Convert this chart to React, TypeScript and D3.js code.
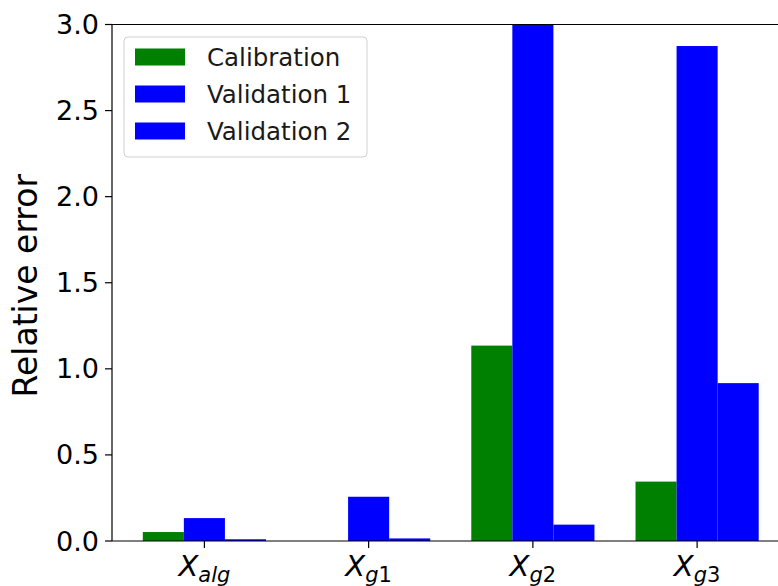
import React from "react";
import * as d3 from "d3";

// values
const categories = ["alg", "g1", "g2", "g3"];
const calibration = [0.052, 0, 1.135, 0.345];
const validation1 = [0.133, 0.257, 3.05, 2.875];
const validation2 = [0.01, 0.015, 0.095, 0.917];
const yTicks = [0, 0.5, 1.0, 1.5, 2.0, 2.5, 3.0];
const seriesNames = ["Calibration", "Validation 1", "Validation 2"];
const seriesColors = ["#008000", "#0000ff", "#0000ff"];

const W = 778;
const H = 586;
const FONT = "DejaVu Sans";

const App = () => {
  const x = d3.scaleLinear().domain([-0.5625, 3.5625]).range([112, 789.5]);
  const y = d3.scaleLinear().domain([0, 3]).range([541, 24.5]);
  const barW = 0.25;
  const series = [calibration, validation1, validation2];
  const offsets = [-0.25, 0, 0.25];

  return (
    <svg
      width={W}
      height={H}
      style={{ position: "absolute", left: 0, top: 0, background: "#fff" }}
      fontFamily={FONT}
    >
      <defs>
        <clipPath id="plot">
          <rect x={112} y={y(3)} width={W} height={y(0) - y(3)} />
        </clipPath>
      </defs>

      {/* bars */}
      <g clipPath="url(#plot)">
        {series.map((vals, si) =>
          vals.map((v, i) => (
            <rect
              key={`${si}-${i}`}
              x={x(i + offsets[si] - barW / 2)}
              y={y(v)}
              width={x(barW) - x(0)}
              height={y(0) - y(v)}
              fill={seriesColors[si]}
            />
          ))
        )}
      </g>

      {/* spines */}
      <line x1={112} x2={112} y1={y(3)} y2={y(0)} stroke="#000" strokeWidth={1.2} />
      <line x1={112} x2={W} y1={y(0)} y2={y(0)} stroke="#000" strokeWidth={1.2} />
      <line x1={112} x2={W} y1={y(3)} y2={y(3)} stroke="#000" strokeWidth={1.2} />

      {/* y axis */}
      {yTicks.map((t) => (
        <g key={t}>
          <line x1={105} x2={112} y1={y(t)} y2={y(t)} stroke="#000" strokeWidth={1.2} />
          <text
            x={99}
            y={y(t)}
            textAnchor="end"
            dominantBaseline="central"
            fontSize={27}
            fill="#000"
          >
            {t.toFixed(1)}
          </text>
        </g>
      ))}
      <text
        transform={`translate(37,${(y(0) + y(3)) / 2 + 3}) rotate(-90)`}
        textAnchor="middle"
        fontSize={33}
        fill="#000"
      >
        Relative error
      </text>

      {/* x axis */}
      {categories.map((c, i) => {
        const letters = c.replace(/[0-9]/g, "");
        const digits = c.replace(/[^0-9]/g, "");
        return (
          <g key={c}>
            <line x1={x(i)} x2={x(i)} y1={y(0)} y2={y(0) + 7} stroke="#000" strokeWidth={1.2} />
            <text x={x(i)} y={576} textAnchor="middle" fill="#000">
              <tspan fontSize={29} fontStyle="italic">X</tspan>
              <tspan fontSize={21} dy={6} fontStyle="italic">
                {letters}
              </tspan>
              {digits && <tspan fontSize={21}>{digits}</tspan>}
            </text>
          </g>
        );
      })}

      {/* legend */}
      <g>
        <rect
          x={124}
          y={37}
          width={243}
          height={120}
          rx={4}
          fill="#fff"
          fillOpacity={0.8}
          stroke="#d0d0d0"
        />
        {seriesNames.map((name, i) => (
          <g key={name} transform={`translate(0,${57 + i * 37})`}>
            <rect x={135} y={-8.5} width={50} height={17} fill={seriesColors[i]} />
            <text x={207} y={0} dominantBaseline="central" fontSize={24.5} fill="#1a1a1a">
              {name}
            </text>
          </g>
        ))}
      </g>
    </svg>
  );
};

export default App;
